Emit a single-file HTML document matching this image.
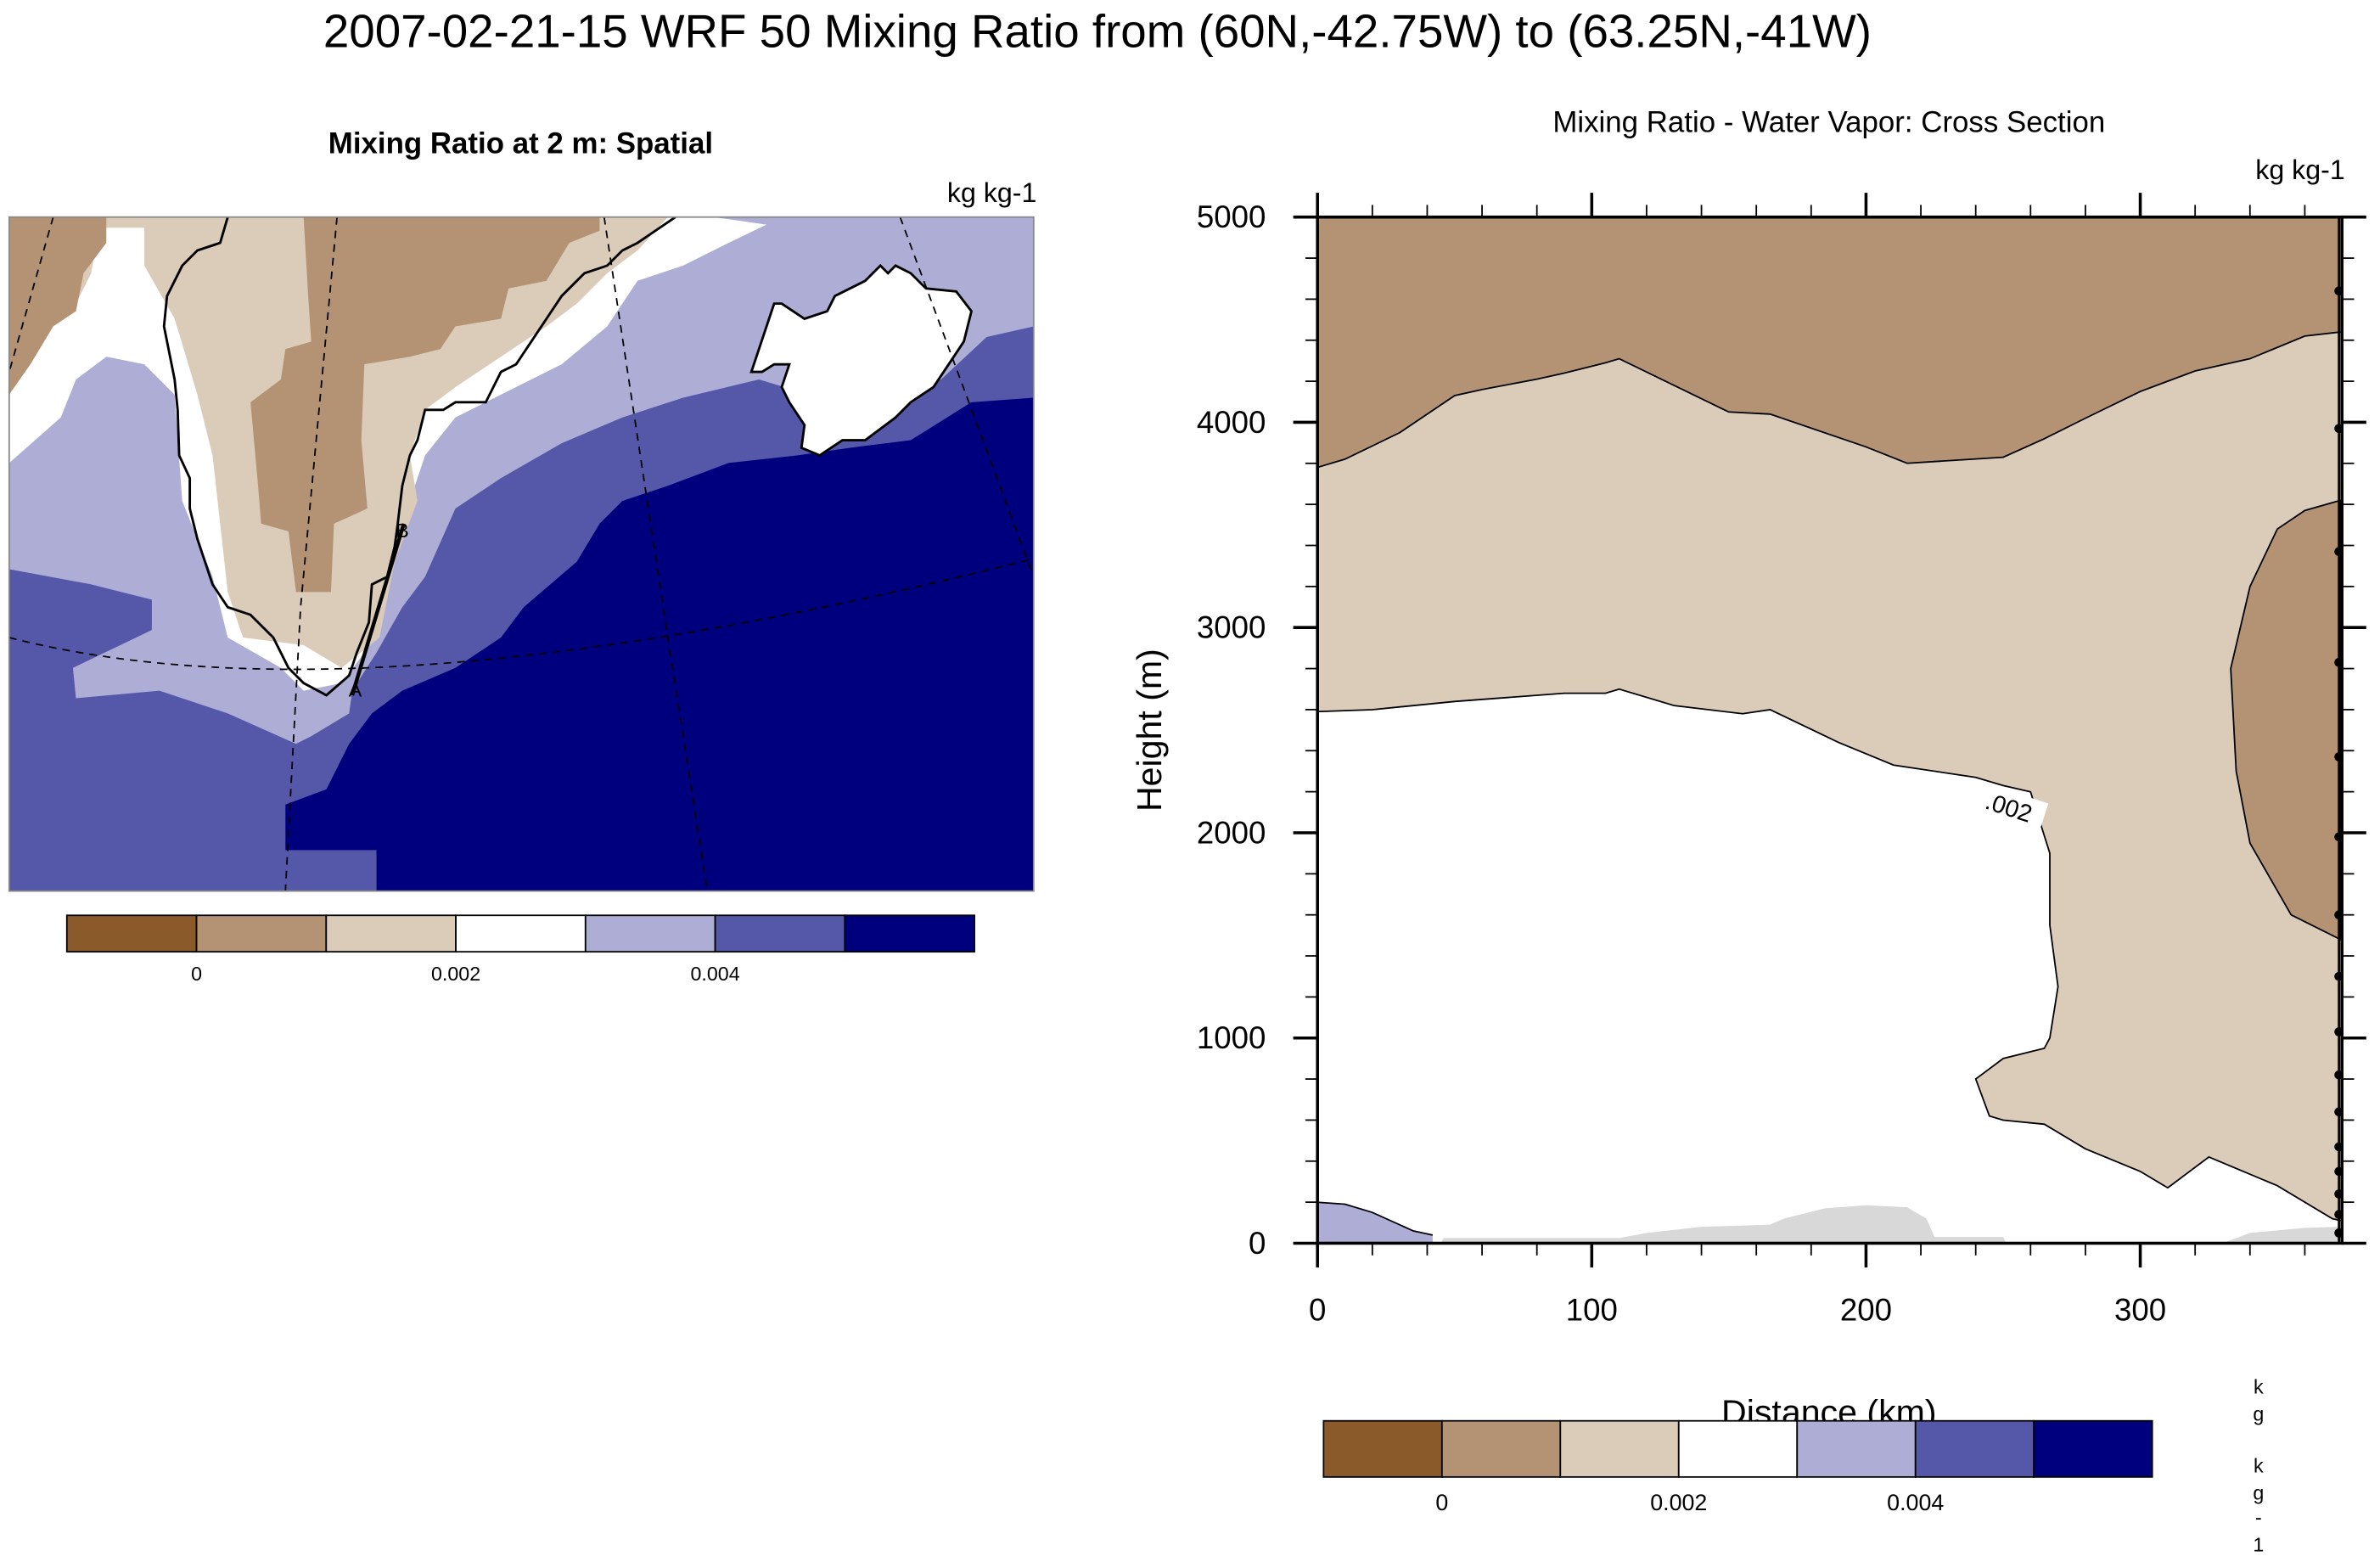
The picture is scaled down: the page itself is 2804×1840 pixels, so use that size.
<!DOCTYPE html>
<html><head><meta charset="utf-8"><style>
html,body{margin:0;padding:0;background:#fff;}
svg{display:block;font-family:"Liberation Sans",sans-serif;}
</style></head><body>
<svg id="root" width="2804" height="1840" viewBox="0 0 1568 1029" xmlns="http://www.w3.org/2000/svg">
<text x="723" y="31" font-size="30.6" text-anchor="middle">2007-02-21-15 WRF 50 Mixing Ratio from (60N,-42.75W) to (63.25N,-41W)</text>

<g>
<text x="343" y="101" font-size="19.5" font-weight="bold" text-anchor="middle">Mixing Ratio at 2 m: Spatial</text>
<text x="683" y="133" font-size="18" text-anchor="end">kg kg-1</text>
<clipPath id="mc"><rect x="6" y="143" width="675" height="444"/></clipPath>
<g clip-path="url(#mc)">
<rect x="6" y="143" width="675" height="444" fill="#5557A8"/>
<polygon fill="#00007F" points="248,587 248,560 188,560 188,530 215,520 230,490 245,470 265,455 300,440 330,420 345,400 380,370 395,345 410,330 440,320 480,305 525,300 560,295 600,290 640,265 681,262 681,587"/>
<polygon fill="#AEADD6" points="6,143 681,143 681,215 650,222 620,250 580,265 540,262 500,250 450,262 410,275 370,292 330,315 300,335 280,380 265,400 248,430 232,455 230,470 205,485 195,490 150,470 105,455 50,460 48,440 100,415 100,395 60,385 6,375"/>
<polygon fill="#ffffff" points="6,143 470,143 505,148 480,160 450,175 420,185 400,215 370,240 330,260 300,275 280,300 270,330 260,360 250,400 240,430 225,450 200,455 185,440 150,420 140,380 120,330 115,260 95,240 70,235 50,250 40,275 6,305"/>
<polygon fill="#DBCBB9" points="6,143 440,143 420,165 400,180 380,200 360,215 330,235 300,255 280,270 270,300 275,330 260,370 250,420 225,440 200,425 160,420 150,390 140,300 130,260 115,210 95,175 95,150 65,150 60,180 50,200 30,215 6,245"/>
<polygon fill="#B39373" points="6,143 70,143 70,160 55,180 50,205 35,215 20,240 6,260"/>
<polygon fill="#B39373" points="200,143 395,143 395,152 375,160 360,185 335,190 330,210 300,215 290,230 270,235 240,240 238,290 242,335 220,345 218,390 195,390 190,350 172,345 170,320 165,265 185,250 188,230 205,225 203,195"/>
<polygon fill="#fff" stroke="#000" stroke-width="1.6" points="505,215 495,245 502,245 510,240 520,240 515,255 520,265 530,280 528,295 540,300 555,290 570,290 590,275 600,265 615,255 625,240 635,225 640,205 630,192 610,190 600,180 590,175 585,180 580,175 570,185 550,195 545,205 530,210 515,200 510,200"/>
<polyline fill="none" stroke="#000" stroke-width="1.6" points="150,143 145,160 130,165 120,175 110,195 108,215 112,235 115,250 117,270 118,300 125,315 125,335 130,355 140,385 150,400 165,405 180,420 190,440 200,450 215,458 230,445 235,430 243,410 245,385 255,380 260,360 262,345 265,320 270,300 275,290 280,270 292,270 300,265 320,265 330,245 340,240 350,225 360,210 370,195 380,185 385,180 400,175 410,165 420,160 445,143"/>
<g fill="none" stroke="#000" stroke-width="1" stroke-dasharray="5,4">
<line x1="35" y1="143" x2="6" y2="245"/>
<polyline points="222,143 198,400 188,587"/>
<polyline points="398,143 440,420 466,587"/>
<line x1="593" y1="143" x2="681" y2="380"/>
<path d="M6,420 Q240,480 681,368"/>
</g>
<line x1="232" y1="458" x2="266" y2="345" stroke="#000" stroke-width="2.5"/>
<text x="265" y="354" font-size="13" text-anchor="middle">B</text>
<text x="234" y="459" font-size="13" text-anchor="middle">A</text>
</g>
<rect x="6" y="143" width="675" height="444" fill="none" stroke="#888" stroke-width="1"/>
<g id="lcb"></g>
</g>

<g>
<text x="1205" y="87" font-size="19.5" text-anchor="middle">Mixing Ratio - Water Vapor: Cross Section</text>
<text x="1545" y="118" font-size="18" text-anchor="end">kg kg-1</text>
<text transform="translate(765,481) rotate(-90)" font-size="23" text-anchor="middle">Height (m)</text>
<text x="1205" y="938" font-size="23" text-anchor="middle">Distance (km)</text>
<g id="xs"></g>
<g id="rcb"></g>
<g font-size="13" text-anchor="middle">
<text x="1488" y="918">k</text><text x="1488" y="936">g</text><text x="1488" y="970">k</text><text x="1488" y="988">g</text><text x="1488" y="1004">-</text><text x="1488" y="1022">1</text>
</g>
</g>
</svg>
<script>
// ---- cross section data ----
const topContourDist = [0,10,30,50,60,80,90,105,110,150,165,200,215,250,265,280,300,320,340,360,373];
const topContourHgt  = [3780,3820,3950,4130,4160,4210,4240,4290,4310,4050,4040,3880,3800,3830,3920,4020,4150,4250,4310,4420,4440];
const lowContourDist = [0,20,50,90,105,110,130,155,165,190,210,240,250,260,267,267,270,267,265,250,240,245,250,265,280,300,310,325,350,370,373];
const lowContourHgt  = [2590,2600,2640,2680,2680,2700,2620,2580,2600,2440,2330,2270,2230,2200,1900,1550,1250,1000,950,900,800,620,600,580,460,350,270,420,280,120,110];
const blobDist = [373,360,350,340,333,335,340,355,373];
const blobHgt  = [3620,3570,3480,3200,2800,2300,1950,1600,1480];
const purpleDist = [0,10,20,35,42,42];
const purpleHgt  = [200,190,150,60,40,0];
const terrainDist = [0,45,46,110,120,140,165,170,185,200,215,222,225,250,251,330,340,360,373,373];
const terrainHgt  = [0,0,25,25,50,80,90,120,170,185,175,120,30,30,0,0,50,75,80,0];
const levelHgt = [4640,3970,3370,2830,2370,1980,1600,1300,1030,820,640,470,350,240,140,50];
const xTicks = [0,100,200,300];
const yTicks = [0,1000,2000,3000,4000,5000];
const cbLabels = ['0','0.002','0.004'];
const cbColors = ['#8B5A2B','#B39373','#DBCBB9','#FFFFFF','#AEADD6','#5557A8','#00007F'];

const NS='http://www.w3.org/2000/svg';
const X0=868, XR=1543, PX=1.807, Y0=819, PY=0.1352;
const sx=d=>X0+d*PX, sy=h=>Y0-h*PY;
function mk(tag,attrs,parent){const e=document.createElementNS(NS,tag);for(const k in attrs)e.setAttribute(k,attrs[k]);parent.appendChild(e);return e;}
const xs=document.getElementById('xs');
function pts(D,H){return D.map((d,i)=>sx(d).toFixed(1)+','+sy(H[i]).toFixed(1)).join(' ');}

mk('rect',{x:X0,y:sy(5000),width:XR-X0,height:sy(0)-sy(5000),fill:'#B39373'},xs);
let tan=mk('polygon',{points:pts(topContourDist,topContourHgt)+' '+sx(373)+','+sy(0)+' '+sx(0)+','+sy(0),fill:'#DBCBB9'},xs);


let wh=mk('polygon',{points:pts(lowContourDist,lowContourHgt)+' '+sx(373)+','+sy(0)+' '+sx(0)+','+sy(0),fill:'#FFFFFF'},xs);


let bl=mk('polygon',{points:pts(blobDist,blobHgt),fill:'#B39373',stroke:'#000','stroke-width':1},xs);


let pu=mk('polygon',{points:pts(purpleDist,purpleHgt)+' '+sx(0)+','+sy(0),fill:'#AEADD6'},xs);


mk('polyline',{points:pts(purpleDist.slice(0,5),purpleHgt.slice(0,5)),fill:'none',stroke:'#000','stroke-width':1},xs);
let tr=mk('polygon',{points:pts(terrainDist,terrainHgt),fill:'#D8D8D8'},xs);


let c1=mk('polyline',{points:pts(topContourDist,topContourHgt),fill:'none',stroke:'#000','stroke-width':1},xs);


let c2=mk('polyline',{points:pts(lowContourDist,lowContourHgt),fill:'none',stroke:'#000','stroke-width':1},xs);


let lg=mk('g',{transform:'translate('+sx(252)+','+sy(2120)+') rotate(18)'},xs);
mk('rect',{x:-24,y:-11,width:48,height:20,fill:'#fff'},lg);
let lt=mk('text',{x:0,y:5,'font-size':16,'text-anchor':'middle'},lg);lt.textContent='.002';


mk('rect',{x:X0,y:sy(5000),width:XR-X0,height:sy(0)-sy(5000),fill:'none',stroke:'#000','stroke-width':2},xs);
for(let d=0;d<=373;d+=20){const maj=d%100===0;const L=maj?16:8;
 mk('line',{x1:sx(d),y1:sy(0),x2:sx(d),y2:sy(0)+L,stroke:'#000','stroke-width':maj?2:1},xs);
 mk('line',{x1:sx(d),y1:sy(5000),x2:sx(d),y2:sy(5000)-L,stroke:'#000','stroke-width':maj?2:1},xs);}
for(let h=0;h<=5000;h+=200){const maj=h%1000===0;const L=maj?16:8;
 mk('line',{x1:X0,y1:sy(h),x2:X0-L,y2:sy(h),stroke:'#000','stroke-width':maj?2:1},xs);
 mk('line',{x1:XR,y1:sy(h),x2:XR+L,y2:sy(h),stroke:'#000','stroke-width':maj?2:1},xs);}
xTicks.forEach(v=>{const t=mk('text',{x:sx(v),y:870,'font-size':20.5,'text-anchor':'middle'},xs);t.textContent=v;
 
 });
yTicks.forEach(v=>{const t=mk('text',{x:834,y:sy(v)+7,'font-size':20.5,'text-anchor':'end'},xs);t.textContent=v;
 
 });
levelHgt.forEach(h=>{const c=mk('circle',{cx:XR-2,cy:sy(h),r:3,fill:'#000'},xs);
 
 });
mk('line',{x1:XR-2,y1:sy(0),x2:XR-2,y2:sy(5000),stroke:'#000','stroke-width':1.5},xs);

function colorbar(g,x,y,w,h,ly,fs){
 const cw=w/cbColors.length;
 cbColors.forEach((c,i)=>{const r=mk('rect',{x:x+i*cw,y:y,width:cw,height:h,fill:c,stroke:'#000','stroke-width':1},g);
  
  });
 cbLabels.forEach((l,i)=>{const t=mk('text',{x:x+(1+2*i)*cw,y:ly,'font-size':fs,'text-anchor':'middle'},g);t.textContent=l;
  
  });
}
colorbar(document.getElementById('lcb'),44,603,598,24,646,13);
colorbar(document.getElementById('rcb'),872,936,546,37,995,15);
</script>
</body></html>
